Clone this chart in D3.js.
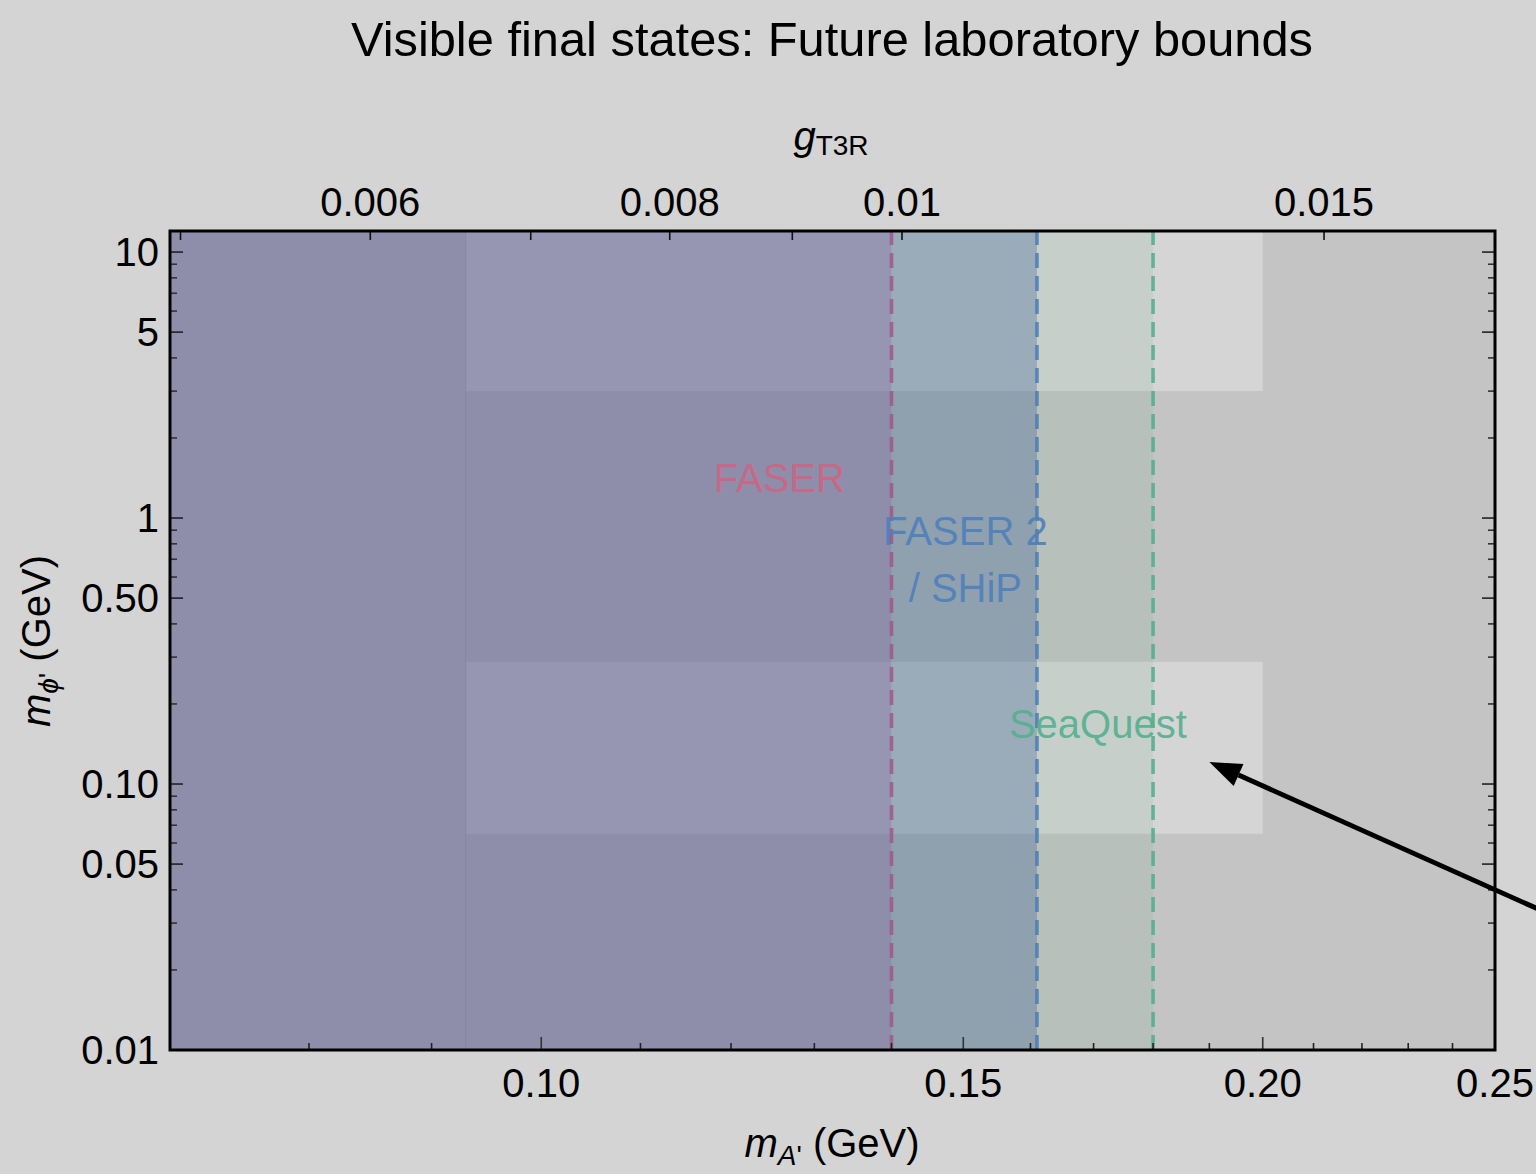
<!DOCTYPE html>
<html>
<head>
<meta charset="utf-8">
<script src="https://cdn.jsdelivr.net/npm/d3@7"></script>
<style>
  html, body { margin: 0; padding: 0; background: #d4d4d4; }
  svg { display: block; }
  text { font-family: "Liberation Sans", Arial, sans-serif; }
</style>
</head>
<body>
<svg id="chart" width="1536" height="1174"></svg>
<script>
// ---------------- data ----------------
const xDomain = [0.07, 0.25];            // m_A' (GeV)
const yDomain = [0.01, 12];              // m_phi' (GeV)
const gRatio = 10 * Math.SQRT2;          // m_A' = gRatio * g_T3R

const xMajorTicks = [0.10, 0.15, 0.20, 0.25];
const xMajorLabels = ["0.10", "0.15", "0.20", "0.25"];
const xMinorTicks = [0.08, 0.09, 0.11, 0.12, 0.13, 0.14, 0.16, 0.17, 0.18, 0.19, 0.21, 0.22, 0.23, 0.24];

const yMajorTicks = [10, 5, 1, 0.5, 0.1, 0.05, 0.01];
const yMajorLabels = ["10", "5", "1", "0.50", "0.10", "0.05", "0.01"];
const yMinorTicks = [0.02, 0.03, 0.04, 0.06, 0.07, 0.08, 0.09,
                     0.2, 0.3, 0.4, 0.6, 0.7, 0.8, 0.9,
                     2, 3, 4, 6, 7, 8, 9];

const gTicks = [0.005, 0.006, 0.007, 0.008, 0.009, 0.01, 0.015];
const gLabelValues = [0.006, 0.008, 0.01, 0.015];
const gLabels = ["0.006", "0.008", "0.01", "0.015"];

// lighter background patches (m_A' range, m_phi' range)
const patchX = [0.093, 0.20];
const patchY = [[3.0, 12], [0.065, 0.288]];

// experiments: reach in m_A' (GeV)
const experiments = ["FASER", "FASER 2 / SHiP", "SeaQuest"];
const reachLow = [0.07, 0.140, 0.161];
const reachHigh = [0.140, 0.161, 0.180];
const bandColors = ["#585892", "#134c7b", "#74b08f"];
const bandOpacity = [0.5, 0.3, 0.15];
const lineColors = ["#a0588a", "#4a7db6", "#4fae8c"];
const textColors = ["#cc6583", "#4f80bb", "#55b08e"];

// label anchors (data coords): [m_A', m_phi' baseline]
const labelLines = [["FASER"], ["FASER 2", "/ SHiP"], ["SeaQuest"]];
const labelX = [0.1257, 0.1503, 0.1707];
const labelY = [[1.25], [0.791, 0.483], [0.149]];

// arrow annotation (data coords)
const arrowTip = [0.190, 0.121];
const arrowTail = [0.272, 0.0285];

// ---------------- layout ----------------
const svg = d3.select("#chart");
const W = 1536, H = 1174;
const L = 170, R = 1495, T = 231, B = 1050;

svg.append("rect").attr("width", W).attr("height", H).attr("fill", "#d4d4d4");

const x = d3.scaleLog().domain(xDomain).range([L, R]);
const y = d3.scaleLog().domain(yDomain).range([B, T]);
const xg = d3.scaleLog().domain([xDomain[0] / gRatio, xDomain[1] / gRatio]).range([L, R]);

const clipId = "plotclip";
svg.append("clipPath").attr("id", clipId).append("rect")
  .attr("x", L).attr("y", T).attr("width", R - L).attr("height", B - T);

const plot = svg.append("g").attr("clip-path", `url(#${clipId})`);

// background
plot.append("rect").attr("x", L).attr("y", T).attr("width", R - L).attr("height", B - T)
  .attr("fill", "#c4c4c4");
plot.selectAll("rect.patch").data(patchY).join("rect").attr("class", "patch")
  .attr("x", x(patchX[0])).attr("width", x(patchX[1]) - x(patchX[0]))
  .attr("y", d => y(d[1])).attr("height", d => y(d[0]) - y(d[1]))
  .attr("fill", "#d5d5d5");
plot.append("line")
  .attr("x1", x(patchX[0])).attr("x2", x(patchX[0])).attr("y1", T).attr("y2", B)
  .attr("stroke", "#888aa6").attr("stroke-width", 1).attr("opacity", 0.3);

// bands
const idx = d3.range(experiments.length);
plot.selectAll("rect.band").data(idx).join("rect").attr("class", "band")
  .attr("x", i => x(reachLow[i])).attr("width", i => x(reachHigh[i]) - x(reachLow[i]))
  .attr("y", T).attr("height", B - T)
  .attr("fill", i => bandColors[i]).attr("fill-opacity", i => bandOpacity[i]);

// dashed boundaries
plot.selectAll("line.reach").data(idx).join("line").attr("class", "reach")
  .attr("x1", i => x(reachHigh[i])).attr("x2", i => x(reachHigh[i]))
  .attr("y1", B).attr("y2", T)
  .attr("stroke", i => lineColors[i]).attr("stroke-width", 3.6)
  .attr("stroke-dasharray", "15,8").attr("opacity", 0.85);

// labels
idx.forEach(i => {
  labelLines[i].forEach((s, j) => {
    plot.append("text")
      .attr("x", x(labelX[i])).attr("y", y(labelY[i][j]))
      .attr("text-anchor", "middle").attr("font-size", 40)
      .attr("fill", textColors[i]).attr("fill-opacity", 0.92)
      .text(s);
  });
});

// ---------------- axes ----------------
const axisG = svg.append("g");
function tickLines(vals, scale, orient, len, color) {
  axisG.selectAll(null).data(vals).join("line")
    .attr("x1", d => orient === "bottom" || orient === "top" ? scale(d) : (orient === "left" ? L : R))
    .attr("x2", d => orient === "bottom" || orient === "top" ? scale(d) : (orient === "left" ? L + len : R - len))
    .attr("y1", d => orient === "left" || orient === "right" ? scale(d) : (orient === "bottom" ? B : T))
    .attr("y2", d => orient === "left" || orient === "right" ? scale(d) : (orient === "bottom" ? B - len : T + len))
    .attr("stroke", color).attr("stroke-width", 1.6);
}
tickLines(xMajorTicks, x, "bottom", 13, "#333");
tickLines(xMinorTicks, x, "bottom", 7, "#222");
tickLines(yMajorTicks, y, "left", 13, "#222");
tickLines(yMinorTicks, y, "left", 7, "#333");
tickLines(yMajorTicks, y, "right", 13, "#222");
tickLines(yMinorTicks, y, "right", 7, "#333");
tickLines(gTicks, xg, "top", 9, "#111");

// frame
svg.append("rect").attr("x", L).attr("y", T).attr("width", R - L).attr("height", B - T)
  .attr("fill", "none").attr("stroke", "#000").attr("stroke-width", 3);

// tick labels
axisG.selectAll("text.xl").data(xMajorTicks).join("text").attr("class", "xl")
  .attr("x", d => x(d)).attr("y", 1097).attr("text-anchor", "middle")
  .attr("font-size", 40).attr("fill", "#000")
  .text((d, i) => xMajorLabels[i]);
axisG.selectAll("text.yl").data(yMajorTicks).join("text").attr("class", "yl")
  .attr("x", 159).attr("y", d => y(d) + 14).attr("text-anchor", "end")
  .attr("font-size", 40).attr("fill", "#000")
  .text((d, i) => yMajorLabels[i]);
axisG.selectAll("text.gl").data(gLabelValues).join("text").attr("class", "gl")
  .attr("x", d => xg(d)).attr("y", 216).attr("text-anchor", "middle")
  .attr("font-size", 40).attr("fill", "#000")
  .text((d, i) => gLabels[i]);

// title
svg.append("text").attr("x", 832).attr("y", 56).attr("text-anchor", "middle")
  .attr("font-size", 48.8).attr("fill", "#000")
  .text("Visible final states: Future laboratory bounds");

// top axis label g_T3R
const gt = svg.append("text").attr("x", 831).attr("y", 150).attr("text-anchor", "middle").attr("fill", "#000");
gt.append("tspan").attr("font-size", 40).attr("font-style", "italic").text("g");
gt.append("tspan").attr("font-size", 28).attr("dy", 5).text("T3R");

// bottom axis label m_A' (GeV)
const bl = svg.append("text").attr("x", 832).attr("y", 1157).attr("text-anchor", "middle").attr("fill", "#000");
bl.append("tspan").attr("font-size", 40).attr("font-style", "italic").text("m");
bl.append("tspan").attr("font-size", 28).attr("font-style", "italic").attr("dy", 8).text("A");
bl.append("tspan").attr("font-size", 28).text("'");
bl.append("tspan").attr("font-size", 40).attr("dy", -8).text(" (GeV)");

// left axis label m_phi' (GeV)
const yl = svg.append("text").attr("transform", "translate(50,641) rotate(-90)")
  .attr("text-anchor", "middle").attr("fill", "#000");
yl.append("tspan").attr("font-size", 40).attr("font-style", "italic").text("m");
yl.append("tspan").attr("font-size", 28).attr("font-style", "italic").attr("dy", 8).text("\u03D5");
yl.append("tspan").attr("font-size", 28).text("'");
yl.append("tspan").attr("font-size", 40).attr("dy", -8).text(" (GeV)");

// arrow annotation
const tip = [x(arrowTip[0]), y(arrowTip[1])];
const tail = [x(arrowTail[0]), y(arrowTail[1])];
const ang = Math.atan2(tail[1] - tip[1], tail[0] - tip[0]);
const headLen = 32, headHalf = 12;
const base = [tip[0] + headLen * Math.cos(ang), tip[1] + headLen * Math.sin(ang)];
svg.append("line")
  .attr("x1", base[0]).attr("y1", base[1]).attr("x2", tail[0]).attr("y2", tail[1])
  .attr("stroke", "#000").attr("stroke-width", 5);
svg.append("path")
  .attr("d", d3.line()([
    tip,
    [base[0] + headHalf * Math.sin(ang), base[1] - headHalf * Math.cos(ang)],
    [base[0] - headHalf * Math.sin(ang), base[1] + headHalf * Math.cos(ang)]
  ]) + "Z")
  .attr("fill", "#000");
</script>
</body>
</html>
